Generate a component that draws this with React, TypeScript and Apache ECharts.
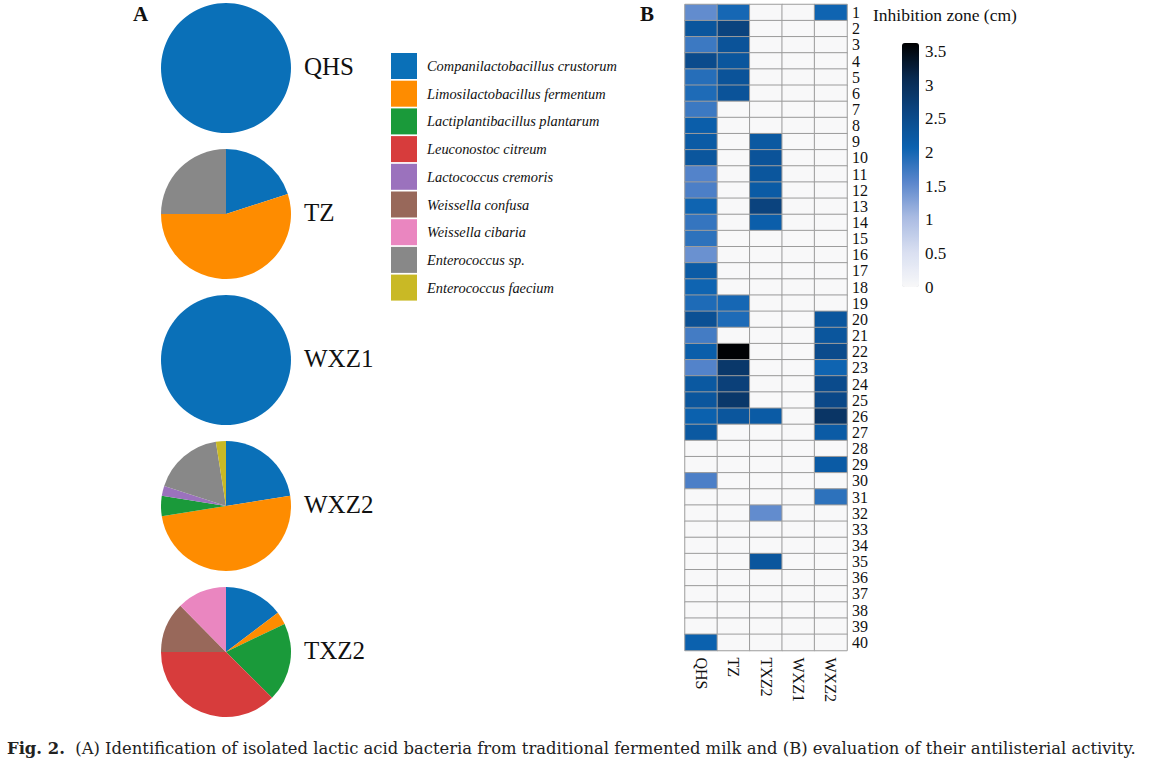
import React, { useEffect, useRef } from "react";
import * as echarts from "echarts";

const SERIF = "Liberation Serif";

// Panel A: species identification
const species = [
  "Companilactobacillus crustorum",
  "Limosilactobacillus fermentum",
  "Lactiplantibacillus plantarum",
  "Leuconostoc citreum",
  "Lactococcus cremoris",
  "Weissella confusa",
  "Weissella cibaria",
  "Enterococcus sp.",
  "Enterococcus faecium",
];
const speciesColors = [
  "#0a70b8",
  "#fe8c00",
  "#1a9a3a",
  "#d73c3c",
  "#9b72bd",
  "#98685a",
  "#ea86c0",
  "#888888",
  "#c9b925",
];
const pieSites = ["QHS", "TZ", "WXZ1", "WXZ2", "TXZ2"];
const qhsShare = [1, 0, 0, 0, 0, 0, 0, 0, 0];
const tzShare = [4, 11, 0, 0, 0, 0, 0, 5, 0];
const wxz1Share = [1, 0, 0, 0, 0, 0, 0, 0, 0];
const wxz2Share = [9, 20, 2, 0, 1, 0, 0, 7, 1];
const txz2Share = [14.7, 3.2, 19.6, 37.6, 0, 12.6, 12.4, 0, 0];
const pieShares = [qhsShare, tzShare, wxz1Share, wxz2Share, txz2Share];

// Panel B: inhibition zone (cm)
const heatColumns = ["QHS", "TZ", "TXZ2", "WXZ1", "WXZ2"];
const strainIds = [
  "1", "2", "3", "4", "5", "6", "7", "8", "9", "10",
  "11", "12", "13", "14", "15", "16", "17", "18", "19", "20",
  "21", "22", "23", "24", "25", "26", "27", "28", "29", "30",
  "31", "32", "33", "34", "35", "36", "37", "38", "39", "40",
];
const qhsZone = [
  1.5, 2.3, 1.75, 2.5, 1.9, 1.95, 1.75, 2.15, 2.2, 2.3,
  1.6, 1.65, 2.05, 1.8, 1.85, 1.45, 2.2, 2.05, 1.95, 2.4,
  1.7, 2.15, 1.6, 2.25, 2.3, 2.1, 2.25, 0, 0, 1.65,
  0, 0, 0, 0, 0, 0, 0, 0, 0, 2.1,
];
const tzZone = [
  2.0, 2.65, 2.35, 2.3, 2.35, 2.35, 0, 0, 0, 0,
  0, 0, 0, 0, 0, 0, 0, 0, 2.0, 1.95,
  0, 3.6, 2.85, 2.7, 2.85, 2.3, 0, 0, 0, 0,
  0, 0, 0, 0, 0, 0, 0, 0, 0, 0,
];
const txz2Zone = [
  0, 0, 0, 0, 0, 0, 0, 0, 2.25, 2.35,
  2.3, 2.2, 2.65, 2.15, 0, 0, 0, 0, 0, 0,
  0, 0, 0, 0, 0, 2.2, 0, 0, 0, 0,
  0, 1.5, 0, 0, 2.3, 0, 0, 0, 0, 0,
];
const wxz1Zone = [
  0, 0, 0, 0, 0, 0, 0, 0, 0, 0,
  0, 0, 0, 0, 0, 0, 0, 0, 0, 0,
  0, 0, 0, 0, 0, 0, 0, 0, 0, 0,
  0, 0, 0, 0, 0, 0, 0, 0, 0, 0,
];
const wxz2Zone = [
  2.05, 0, 0, 0, 0, 0, 0, 0, 0, 0,
  0, 0, 0, 0, 0, 0, 0, 0, 0, 2.3,
  2.3, 2.5, 2.05, 2.5, 2.55, 2.9, 2.2, 0, 2.2, 0,
  1.85, 0, 0, 0, 0, 0, 0, 0, 0, 0,
];
const zoneColumns = [qhsZone, tzZone, txz2Zone, wxz1Zone, wxz2Zone];
const colorbarTicks = [0, 0.5, 1, 1.5, 2, 2.5, 3, 3.5];
const zoneMax = 3.63;
const zoneColors = [
  "#f8f8f9",
  "#d9dff1",
  "#a9bbe2",
  "#5a86cc",
  "#0b62b0",
  "#0b4684",
  "#092a50",
  "#000000",
];

const caption =
  "{b|Fig. 2.}  (A) Identification of isolated lactic acid bacteria from traditional fermented milk and (B) evaluation of their antilisterial activity.";

export default function App() {
  const ref = useRef<HTMLDivElement>(null);

  useEffect(() => {
    if (!ref.current) return;
    const chart = echarts.init(ref.current, null, { renderer: "svg" });

    const pieCenters = [68, 214, 360, 506, 652];
    const pieSeries = pieSites.map((site, i) => ({
      type: "pie",
      name: site,
      center: [226, pieCenters[i]],
      radius: 65,
      startAngle: 90,
      clockwise: true,
      silent: true,
      label: { show: false },
      labelLine: { show: false },
      itemStyle: { borderWidth: 0 },
      data: species.map((sp, k) => ({
        name: sp,
        value: pieShares[i][k],
        itemStyle: { color: speciesColors[k] },
      })),
    }));

    const heatData: number[][] = [];
    zoneColumns.forEach((col, c) => {
      col.forEach((v, r) => heatData.push([c, r, v]));
    });

    const option: any = {
      animation: false,
      backgroundColor: "#ffffff",
      textStyle: { fontFamily: SERIF },
      legend: {
        orient: "vertical",
        left: 391,
        top: 53,
        padding: 0,
        itemWidth: 26,
        itemHeight: 26,
        itemGap: 1.7,
        icon: "rect",
        selectedMode: false,
        data: species,
        textStyle: {
          fontFamily: SERIF,
          fontStyle: "italic",
          fontSize: 14.4,
          color: "#111",
          padding: [0, 0, 0, 5],
        },
      },
      grid: [
        { left: 685, top: 4.5, width: 162, height: 646 },
        { left: 902, top: 43, width: 17, height: 244 },
      ],
      xAxis: [
        {
          type: "category",
          gridIndex: 0,
          data: heatColumns,
          position: "bottom",
          axisLine: { show: false },
          axisTick: { show: false },
          splitLine: { show: false },
          axisLabel: {
            rotate: -90,
            margin: 7,
            fontSize: 16,
            fontFamily: SERIF,
            color: "#111",
          },
        },
        { type: "value", gridIndex: 1, show: false, min: 0, max: 1 },
      ],
      yAxis: [
        {
          type: "category",
          gridIndex: 0,
          data: strainIds,
          inverse: true,
          position: "right",
          axisLine: { show: false },
          axisTick: { show: false },
          splitLine: { show: false },
          axisLabel: {
            margin: 5,
            fontSize: 16,
            fontFamily: SERIF,
            color: "#111",
            interval: 0,
          },
        },
        {
          type: "value",
          gridIndex: 1,
          position: "right",
          min: colorbarTicks[0],
          max: zoneMax,
          interval: 0.5,
          axisLine: { show: false },
          axisTick: { show: false },
          splitLine: { show: false },
          axisLabel: {
            margin: 6,
            fontSize: 17,
            fontFamily: SERIF,
            color: "#111",
            customValues: colorbarTicks,
          },
        },
      ],
      visualMap: {
        type: "continuous",
        seriesIndex: pieSeries.length,
        min: 0,
        max: zoneMax,
        calculable: false,
        orient: "vertical",
        left: 902,
        top: 43,
        padding: 0,
        itemWidth: 17,
        itemHeight: 244,
        text: ["", ""],
        showLabel: false,
        hoverLink: false,
        inRange: { color: zoneColors },
      },
      series: [
        ...pieSeries,
        {
          type: "heatmap",
          xAxisIndex: 0,
          yAxisIndex: 0,
          data: heatData,
          silent: true,
          label: { show: false },
          itemStyle: { borderColor: "#9c9c9c", borderWidth: 1 },
          emphasis: { disabled: true },
        },
      ],
      graphic: [
        ...pieSites.map((site, i) => ({
          type: "text",
          left: 304,
          top: pieCenters[i] - 14,
          style: {
            text: site,
            font: `25px "${SERIF}"`,
            fill: "#111",
          },
        })),
        {
          type: "text",
          left: 133,
          top: 3,
          style: { text: "A", font: `bold 21px "${SERIF}"`, fill: "#111" },
        },
        {
          type: "text",
          left: 640,
          top: 3,
          style: { text: "B", font: `bold 21px "${SERIF}"`, fill: "#111" },
        },
        {
          type: "text",
          left: 873,
          top: 6,
          style: {
            text: "Inhibition zone (cm)",
            font: `17.5px "${SERIF}"`,
            fill: "#111",
          },
        },
        {
          type: "text",
          left: 7,
          top: 740,
          style: {
            text: caption,
            font: `16.4px "DejaVu Serif"`,
            fill: "#222",
            rich: {
              b: {
                fontWeight: "bold",
                fontSize: 16.4,
                fontFamily: "DejaVu Serif",
                fill: "#222",
              },
            },
          },
        },
      ],
    };

    chart.setOption(option);
    return () => chart.dispose();
  }, []);

  return (
    <div
      ref={ref}
      style={{ position: "absolute", left: 0, top: 0, width: 1149, height: 764 }}
    />
  );
}
